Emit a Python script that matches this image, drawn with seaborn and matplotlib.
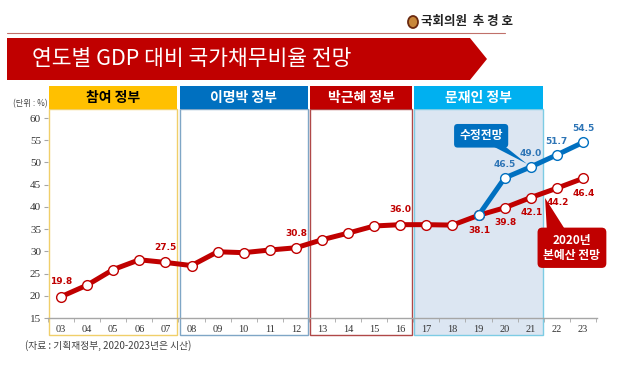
import numpy as np
import pandas as pd
import seaborn as sns
import matplotlib.pyplot as plt
from matplotlib.patches import Rectangle, Polygon, Ellipse

# data
years = ['03', '04', '05', '06', '07', '08', '09', '10', '11', '12',
         '13', '14', '15', '16', '17', '18', '19', '20', '21', '22', '23']
budget_2020 = [19.8, 22.4, 25.9, 28.1, 27.5, 26.8, 29.9, 29.7, 30.3, 30.8,
               32.6, 34.1, 35.7, 36.0, 36.0, 35.9, 38.1, 39.8, 42.1, 44.2, 46.4]
revised_years = ['19', '20', '21', '22', '23']
revised = [38.1, 46.5, 49.0, 51.7, 54.5]

red_labels = {'03': 19.8, '07': 27.5, '12': 30.8, '16': 36.0}
red_labels_below = {'19': 38.1, '20': 39.8, '21': 42.1, '22': 44.2, '23': 46.4}
blue_labels = {'20': 46.5, '21': 49.0, '22': 51.7, '23': 54.5}

govs = ['참여 정부', '이명박 정부', '박근혜 정부', '문재인 정부']
gov_spans = [('03', '07'), ('08', '12'), ('13', '16'), ('17', '21')]
gov_colors = ['#FFC000', '#0070C0', '#C00000', '#00B0F0']
gov_text = ['black', 'white', 'white', 'white']
gov_edges = ['#F0CF6A', '#7FA6C6', '#B04848', '#7DCCE4']

RED = '#C00000'
BLUE = '#0070C0'

sns.set_style('white')
plt.rcParams['font.family'] = ['Noto Sans CJK KR', 'DejaVu Sans']

pos = {y: i for i, y in enumerate(years)}
df_red = pd.DataFrame({'x': [pos[y] for y in years], 'v': budget_2020})
df_blue = pd.DataFrame({'x': [pos[y] for y in revised_years], 'v': revised})

fig = plt.figure(figsize=(6.4, 3.7), dpi=100)
ax = fig.add_axes([48 / 640, 1 - 318 / 370, 549 / 640, 200 / 370])
ax.set_xlim(-0.46, 20.54)
ax.set_ylim(15, 60)

def fig_xy(px, py):
    return (px / 640, 1 - py / 370)

# header
fig.add_artist(plt.Line2D([7 / 640, 505 / 640], [1 - 33 / 370] * 2, color='#C0706A', lw=0.8))
fig.add_artist(Ellipse(fig_xy(413, 22), 10 / 640, 12 / 370, transform=fig.transFigure,
                       facecolor='#C8873A', edgecolor='#6B2A10', lw=1.3))
fig.text(421 / 640, 1 - 22 / 370, '국회의원  추 경 호', fontsize=9, fontweight='bold',
         va='center', ha='left', color='#222222')
banner = Polygon([fig_xy(7, 38), fig_xy(470, 38), fig_xy(487, 59), fig_xy(470, 80), fig_xy(7, 80)],
                 closed=True, transform=fig.transFigure, facecolor=RED, edgecolor='none')
fig.add_artist(banner)
fig.text(32 / 640, 1 - 59 / 370, '연도별 GDP 대비 국가채무비율 전망', fontsize=15.5,
         color='white', va='center', ha='left')

# government panels
top_y, head_y, bot_y = 62.0, 67.2, 11.2
for name, (a, b), c, tc, ec in zip(govs, gov_spans, gov_colors, gov_text, gov_edges):
    x0, x1 = pos[a] - 0.46, pos[b] + 0.46
    if name == '문재인 정부':
        ax.add_patch(Rectangle((x0, bot_y), x1 - x0, top_y - bot_y, facecolor='#DCE6F2',
                               edgecolor='none', clip_on=False, zorder=0))
    ax.add_patch(Rectangle((x0, bot_y), x1 - x0, top_y - bot_y, facecolor='none',
                           edgecolor=ec, lw=1.0, clip_on=False, zorder=1))
    ax.add_patch(Rectangle((x0, top_y), x1 - x0, head_y - top_y, facecolor=c,
                           edgecolor='none', clip_on=False, zorder=2))
    ax.text((x0 + x1) / 2, (top_y + head_y) / 2, name, color=tc, fontsize=10,
            fontweight='bold', ha='center', va='center', zorder=3)

# lines
line_kw = dict(linewidth=3.6, marker='o', markersize=7, markerfacecolor='white',
               markeredgewidth=1.0, legend=False, zorder=5)
sns.lineplot(data=df_blue, x='x', y='v', ax=ax, color=BLUE, markeredgecolor=BLUE, **line_kw)
sns.lineplot(data=df_red, x='x', y='v', ax=ax, color=RED, markeredgecolor=RED, **line_kw)
ax.lines[-1].set_zorder(4)

for y, v in red_labels.items():
    ax.text(pos[y], v + 2.3, f'{v:.1f}', color=RED, fontsize=6.5, fontweight='bold',
            ha='center', va='bottom', family='DejaVu Sans')
for y, v in red_labels_below.items():
    ax.text(pos[y] + 0.05, v - 2.3, f'{v:.1f}', color=RED, fontsize=6.5, fontweight='bold',
            ha='center', va='top', family='DejaVu Sans')
for y, v in blue_labels.items():
    ax.text(pos[y], v + 2.1, f'{v:.1f}', color='#2E75B6', fontsize=6.5, fontweight='bold',
            ha='center', va='bottom', family='DejaVu Sans')

# callouts
ax.add_patch(Polygon([(16.3, 54.4), (16.85, 54.4), (17.85, 49.7)], closed=True,
                     facecolor=BLUE, edgecolor='none', zorder=6, clip_on=False))
ax.text(16.1, 56.0, '수정전망', color='white', fontsize=8.5, fontweight='bold',
        ha='center', va='center', zorder=7,
        bbox=dict(boxstyle='round,pad=0.45,rounding_size=0.3', facecolor=BLUE, edgecolor='none'))
ax.add_patch(Polygon([(18.62, 34.6), (19.35, 34.6), (18.55, 42.0)], closed=True,
                     facecolor=RED, edgecolor='none', zorder=6, clip_on=False))
ax.text(19.58, 30.8, '2020년\n본예산 전망', color='white', fontsize=8.5, fontweight='bold',
        ha='center', va='center', zorder=7, linespacing=1.25,
        bbox=dict(boxstyle='round,pad=0.5,rounding_size=0.4', facecolor=RED, edgecolor='none'))

# axes styling
ax.set_xticks(range(len(years)))
ax.set_xticklabels(years, family='Liberation Serif', fontsize=7.5, color='#333333')
ax.set_xticks(np.arange(-0.5, len(years), 1.0), minor=True)
ax.tick_params(axis='x', which='major', length=0, pad=5)
ax.tick_params(axis='x', which='minor', length=3, color='#A6A6A6', direction='out', bottom=True)
ax.set_yticks(range(15, 61, 5))
ax.set_yticklabels([str(t) for t in range(15, 61, 5)], family='Liberation Serif',
                   fontsize=8, color='#333333')
ax.tick_params(axis='y', length=3, color='#A6A6A6', direction='out', left=True, pad=2)
for s in ['top', 'right', 'left']:
    ax.spines[s].set_visible(False)
ax.spines['bottom'].set_color('#A6A6A6')
ax.spines['bottom'].set_linewidth(1.0)
ax.set_xlabel('')
ax.set_ylabel('')
ax.set_facecolor('none')

fig.text(13 / 640, 1 - 104 / 370, '(단위 : %)', fontsize=6, color='#444444', va='center')
fig.text(25 / 640, 1 - 346 / 370, '(자료 : 기획재정부, 2020-2023년은 시산)', fontsize=7,
         color='#404040', va='center')

fig.savefig('out.png', dpi=100)
